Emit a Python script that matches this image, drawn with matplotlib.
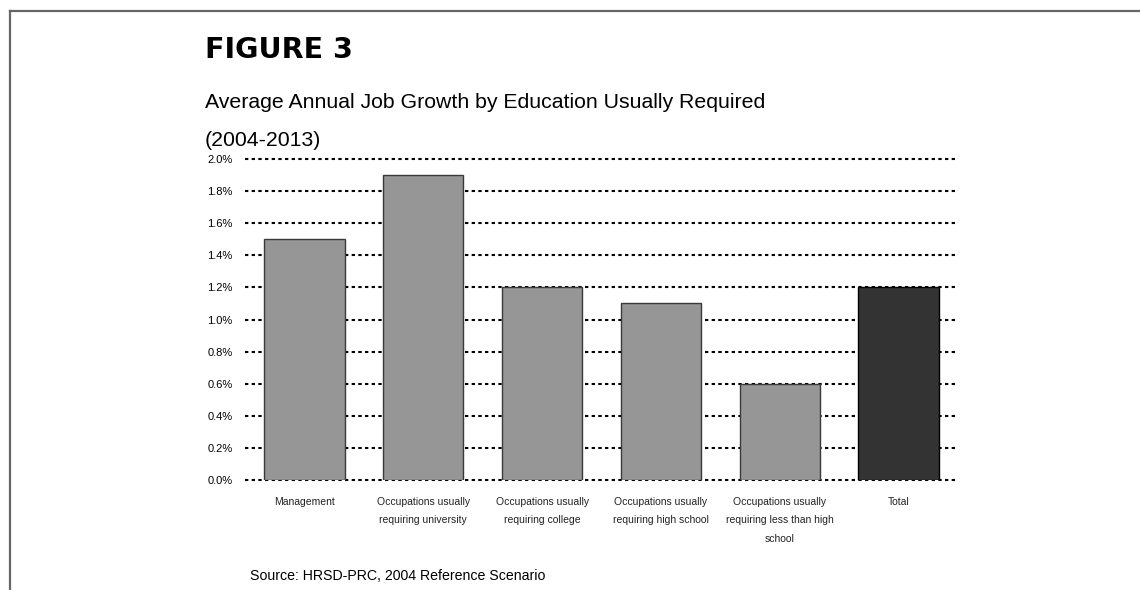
import matplotlib
matplotlib.use("Agg")
import matplotlib.pyplot as plt
from matplotlib.ticker import FuncFormatter
from matplotlib.lines import Line2D

# job growth by education level, % per year
categories = ["Management",
              "Occupations usually\nrequiring university",
              "Occupations usually\nrequiring college",
              "Occupations usually\nrequiring high school",
              "Occupations usually\nrequiring less than high\nschool",
              "Total"]
growth = [1.5, 1.9, 1.2, 1.1, 0.6, 1.2]
bar_colors = ["#969696"] * 5 + ["#333333"]
edge_colors = ["#3a3a3a"] * 5 + ["#000000"]
yticks = [0.0, 0.2, 0.4, 0.6, 0.8, 1.0, 1.2, 1.4, 1.6, 1.8, 2.0]

plt.rcParams["font.family"] = ["Liberation Sans", "DejaVu Sans"]

fig = plt.figure(figsize=(11.4, 5.9), dpi=100)
ax = fig.add_axes([245/1140, 1 - 480/590, 713/1140, 321/590])

x = range(len(categories))
ax.bar(x, growth, width=0.675, color=bar_colors, edgecolor=edge_colors,
       linewidth=1.0, zorder=3)

ax.set_xlim(-0.5, len(categories) - 0.5)
ax.set_ylim(0, 2.0)
ax.set_yticks(yticks)
ax.yaxis.set_major_formatter(FuncFormatter(lambda v, p: f"{v:.1f}%"))
ax.yaxis.grid(True, color="black", linewidth=1.5, linestyle=(0, (1.6, 1.6)), zorder=0)
for gl in ax.get_ygridlines():
    gl.set_clip_on(False)
ax.set_axisbelow(True)
ax.tick_params(axis="y", length=0, pad=9, labelsize=8)
ax.tick_params(axis="x", length=0, pad=12)
ax.set_xticks(list(x))
ax.set_xticklabels(categories, fontsize=7.5, linespacing=2.1,
                   family=["Liberation Sans Narrow", "Liberation Sans", "DejaVu Sans"],
                   color="#222222")
for s in ax.spines.values():
    s.set_visible(False)

# page frame, top and left edges only
fig.add_artist(Line2D([10/1140, 1.0], [1 - 10.5/590] * 2, transform=fig.transFigure,
                      color="#666666", linewidth=1.6))
fig.add_artist(Line2D([10/1140] * 2, [0, 1 - 10.5/590], transform=fig.transFigure,
                      color="#666666", linewidth=1.6))

fig.text(205/1140, 1 - 50/590, "FIGURE 3", fontsize=20.5, fontweight="heavy",
         family=["DejaVu Sans"], va="center", ha="left")
fig.text(205/1140, 1 - 103/590, "Average Annual Job Growth by Education Usually Required",
         fontsize=15.3, va="center", ha="left")
fig.text(205/1140, 1 - 140/590, "(2004-2013)", fontsize=15.3, va="center", ha="left")
fig.text(250/1140, 1 - 576/590, "Source: HRSD-PRC, 2004 Reference Scenario",
         fontsize=10.2, va="center", ha="left")

fig.savefig("out.png", dpi=100)
